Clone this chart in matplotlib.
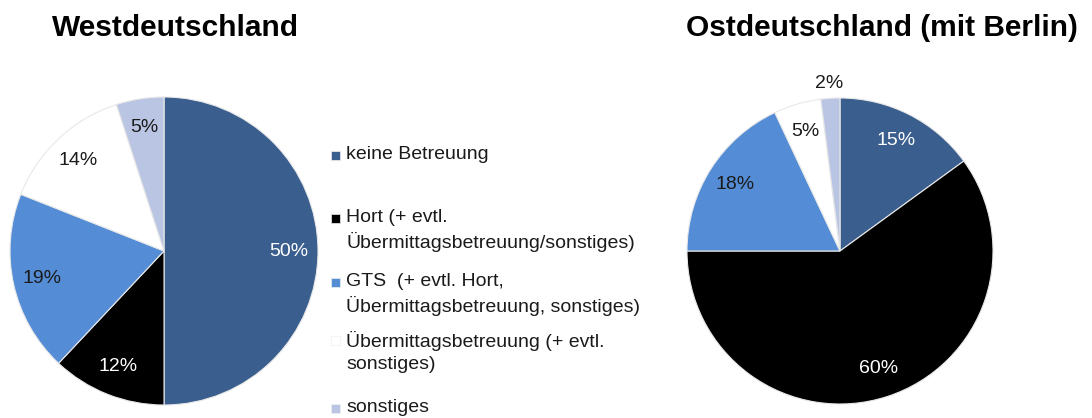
import matplotlib
matplotlib.use("Agg")
import matplotlib.pyplot as plt
from matplotlib.patches import Rectangle
import numpy as np

plt.rcParams['font.family'] = ['Liberation Sans', 'DejaVu Sans']

# data
categories = [
    "keine Betreuung",
    "Hort (+ evtl.\nÜbermittagsbetreuung/sonstiges)",
    "GTS  (+ evtl. Hort,\nÜbermittagsbetreuung, sonstiges)",
    "Übermittagsbetreuung (+ evtl.\nsonstiges)",
    "sonstiges",
]
west_values = [50, 12, 19, 14, 5]
east_values = [15, 60, 18, 5, 2]
titles = ["Westdeutschland", "Ostdeutschland (mit Berlin)"]

colors = ["#3A5F8E", "#000000", "#548DD6", "#FFFFFF", "#B9C5E2"]
label_colors = ["white", "white", "#1a1a1a", "#1a1a1a", "#1a1a1a"]

W, H = 1092, 418
fig = plt.figure(figsize=(W / 100, H / 100), dpi=100)


def px_axes(cx, cy, r):
    return fig.add_axes([(cx - r) / W, (H - cy - r) / H, 2 * r / W, 2 * r / H])


def draw_pie(ax, values, outside=()):
    wedges, _, autotexts = ax.pie(
        values, colors=colors, startangle=90, counterclock=False,
        autopct=lambda p: f"{p:.0f}%", pctdistance=0.81,
        wedgeprops=dict(edgecolor="#e8e8e8", linewidth=0.8),
        textprops=dict(fontsize=14),
    )
    for i, t in enumerate(autotexts):
        t.set_color(label_colors[i])
        if i in outside:
            w = wedges[i]
            ang = np.deg2rad((w.theta1 + w.theta2) / 2)
            t.set_position((1.1 * np.cos(ang), 1.1 * np.sin(ang)))
            t.set_color("#1a1a1a")
    ax.set_xlim(-1, 1)
    ax.set_ylim(-1, 1)
    ax.set_aspect("equal")
    ax.axis("off")


ax1 = px_axes(164, 251, 154)
draw_pie(ax1, west_values)
ax2 = px_axes(840, 251, 153)
draw_pie(ax2, east_values, outside=(4,))

fig.text(175 / W, 1 - 28 / H, titles[0], ha="center", va="center",
         fontsize=21.5, fontweight="bold")
fig.text(882 / W, 1 - 28 / H, titles[1], ha="center", va="center",
         fontsize=21.5, fontweight="bold")

# legend drawn by hand (first-line aligned markers)
leg_y = [155, 218, 282, 340, 408]
for lab, col, y in zip(categories, colors, leg_y):
    fig.patches.append(Rectangle(((331) / W, 1 - (y + 5) / H), 9 / W, 9 / H,
                                 transform=fig.transFigure, facecolor=col,
                                 edgecolor="#f0f0f0", linewidth=0.5))
    fig.text(346 / W, 1 - (y - 9) / H, lab, ha="left", va="top",
             fontsize=14, color="#1a1a1a", linespacing=1.35)

fig.savefig("out.png", dpi=100)
